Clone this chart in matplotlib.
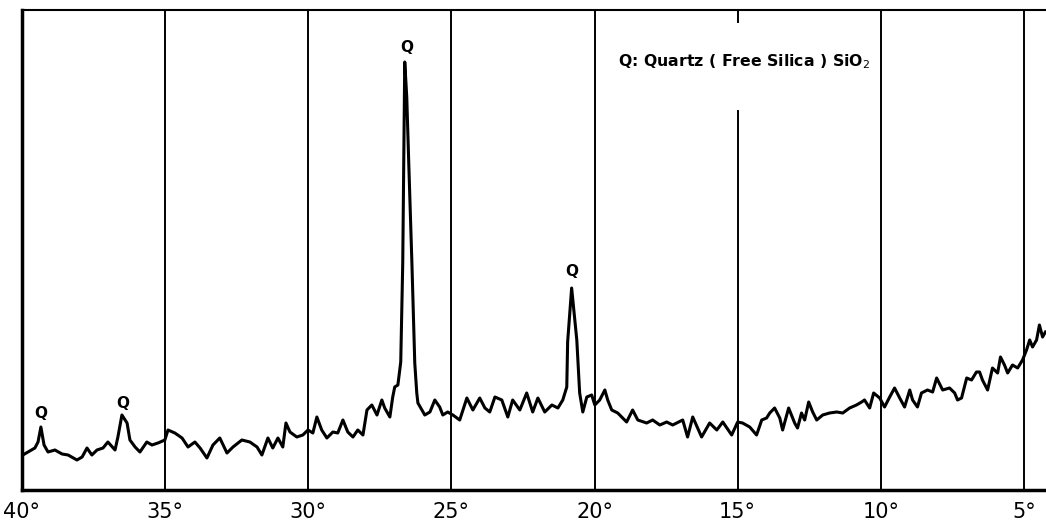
import matplotlib
matplotlib.use("Agg")
import matplotlib.pyplot as plt

# 2-theta (degrees) and intensity (arbitrary units)
two_theta = [39.97, 39.79, 39.55, 39.44, 39.34, 39.23, 39.09, 38.85, 38.60, 38.39,
             38.08, 37.90, 37.73, 37.56, 37.38, 37.17, 37.00, 36.75, 36.65, 36.51,
             36.33, 36.23, 36.05, 35.88, 35.64, 35.46, 35.25, 35.01, 34.90, 34.66,
             34.41, 34.20, 33.96, 33.78, 33.54, 33.33, 33.09, 32.84, 32.63, 32.32,
             32.04, 31.79, 31.62, 31.41, 31.24, 31.06, 30.89, 30.78, 30.64, 30.40,
             30.19, 30.01, 29.84, 29.70, 29.53, 29.35, 29.14, 28.97, 28.79, 28.62,
             28.44, 28.27, 28.09, 27.95, 27.78, 27.60, 27.43, 27.33, 27.15, 27.05,
             26.98, 26.87, 26.77, 26.70, 26.63, 26.56, 26.49, 26.38, 26.28, 26.21,
             26.17, 25.93, 25.75, 25.58, 25.41, 25.30, 25.13, 24.95, 24.71, 24.46,
             24.25, 24.01, 23.83, 23.66, 23.48, 23.24, 23.03, 22.86, 22.61, 22.37,
             22.16, 21.98, 21.74, 21.49, 21.28, 21.11, 20.97, 20.94, 20.80, 20.62,
             20.52, 20.41, 20.27, 20.10, 19.99, 19.82, 19.64, 19.54, 19.40, 19.19,
             18.88, 18.67, 18.49, 18.18, 17.97, 17.72, 17.48, 17.27, 16.92, 16.75,
             16.57, 16.26, 15.98, 15.73, 15.52, 15.21, 15.00, 14.83, 14.58, 14.34,
             14.16, 13.99, 13.88, 13.71, 13.53, 13.43, 13.22, 13.01, 12.91, 12.77,
             12.66, 12.52, 12.38, 12.24, 12.03, 11.79, 11.54, 11.33, 11.09, 10.85,
             10.67, 10.57, 10.39, 10.25, 10.04, 9.87, 9.69, 9.52, 9.34, 9.17,
             8.99, 8.89, 8.72, 8.58, 8.37, 8.19, 8.05, 7.84, 7.60, 7.42,
             7.32, 7.18, 7.00, 6.83, 6.66, 6.55, 6.45, 6.27, 6.10, 5.92,
             5.82, 5.68, 5.57, 5.40, 5.22, 5.05, 4.91, 4.80, 4.70, 4.56,
             4.46, 4.35, 4.25]
intensity = [35, 38, 42, 48, 63, 45, 38, 40, 36, 35,
             30, 33, 42, 35, 40, 42, 48, 40, 53, 75,
             67, 50, 43, 38, 48, 45, 47, 50, 60, 57,
             52, 43, 48, 42, 32, 45, 52, 37, 43, 50,
             48, 43, 35, 52, 42, 52, 43, 67, 58, 53,
             55, 60, 57, 73, 60, 52, 58, 57, 70, 58,
             53, 60, 55, 80, 85, 75, 90, 82, 73, 93,
             103, 105, 128, 227, 428, 393, 327, 227, 127, 97,
             87, 75, 78, 90, 83, 75, 78, 75, 70, 92,
             80, 92, 82, 78, 93, 90, 73, 90, 80, 97,
             78, 92, 78, 85, 82, 90, 103, 148, 202, 150,
             97, 78, 93, 95, 85, 90, 100, 90, 80, 77,
             68, 80, 70, 67, 70, 65, 68, 65, 70, 53,
             73, 53, 67, 60, 68, 55, 68, 67, 63, 55,
             70, 72, 77, 82, 72, 60, 82, 67, 62, 77,
             70, 88, 78, 70, 75, 77, 78, 77, 82, 85,
             88, 90, 82, 97, 92, 83, 93, 102, 92, 83,
             100, 90, 83, 97, 100, 98, 112, 100, 102, 97,
             90, 92, 112, 110, 118, 118, 110, 100, 122, 117,
             133, 125, 117, 125, 122, 130, 140, 150, 143, 150,
             165, 153, 158]

# Peak markers (Quartz)
peak_theta = [39.34, 36.47, 26.56, 20.80]
peak_label_y = [77, 87, 443, 218]
peak_labels = ["Q", "Q", "Q", "Q"]

tick_values = [40, 35, 30, 25, 20, 15, 10, 5]
tick_labels = ["40°", "35°", "30°", "25°", "20°", "15°", "10°", "5°"]
legend_text = "Q: Quartz ( Free Silica ) SiO$_2$"

fig = plt.figure(figsize=(10.46, 5.25), dpi=100)
ax = fig.add_axes([22 / 1046, 35 / 525, 1 - 22 / 1046, 480 / 525])

ax.set_xlim(40, 4.23)
ax.set_ylim(0, 480)

# vertical grid lines
for t in tick_values[1:]:
    if t == 15:
        ax.axvline(t, ymin=0, ymax=0.79, color="black", lw=1.4)
        ax.axvline(t, ymin=0.975, ymax=1.0, color="black", lw=1.4)
    else:
        ax.axvline(t, color="black", lw=1.4)

ax.plot(two_theta, intensity, color="black", lw=2.2, solid_joinstyle="round")

for t, y, s in zip(peak_theta, peak_label_y, peak_labels):
    ax.text(t, y, s, ha="center", va="center", fontsize=11, fontweight="bold")

ax.text(14.76, 428, legend_text, ha="center", va="center", fontsize=11.3,
        fontweight="bold", bbox=dict(facecolor="white", edgecolor="none", pad=3))

ax.set_xticks(tick_values)
ax.set_xticklabels(tick_labels, fontsize=15)
ax.tick_params(axis="x", length=0, pad=9)
ax.set_yticks([])

for side in ("left", "bottom"):
    ax.spines[side].set_linewidth(2.5)
ax.spines["top"].set_linewidth(1.5)
ax.spines["right"].set_visible(False)

fig.savefig("out.png", dpi=100)
